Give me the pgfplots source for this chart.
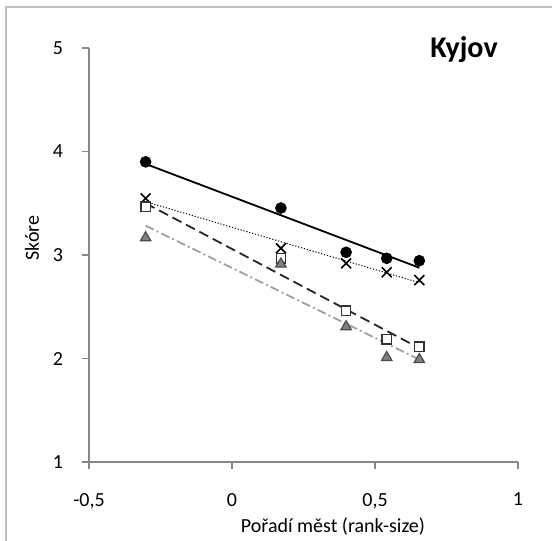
\documentclass[border=0pt]{standalone}
\usepackage{pgfplots}
\pgfplotsset{compat=1.18}
\usepackage{fontspec}
\setmainfont{Carlito}
\definecolor{axgray}{HTML}{868686}
\definecolor{framegray}{HTML}{BFBFBF}
\definecolor{trigray}{HTML}{808080}
\definecolor{dashgray}{HTML}{A0A0A0}
\begin{document}
\begin{tikzpicture}[x=0.5pt,y=-0.5pt]
\begin{scope}
\clip (0,0) rectangle (552,541);
\draw[framegray, line width=1.2pt] (6,7) rectangle (620,620);
\end{scope}
\begin{axis}[
  at={(44.5pt,-231pt)}, anchor=south west,
  scale only axis, width=214.5pt, height=207pt,
  xmin=-0.5, xmax=1, ymin=1, ymax=5,
  axis lines=left,
  axis line style={axgray, line width=0.8pt, -},
  xtick={-0.5,0,0.5,1}, xticklabels={{-0,5},0,{0,5},1},
  ytick={1,2,3,4,5}, yticklabels={1,2,3,4,5},
  tick align=outside, major tick length=3.5pt,
  tick style={axgray, line width=0.8pt},
  ticklabel style={font=\fontsize{10}{12}\selectfont, text=black},
  xticklabel style={yshift=-8.5pt},
  yticklabel style={xshift=-6pt},
  clip=false,
]
% trend lines
\addplot[black, line width=0.9pt] coordinates {(-0.302,3.88) (0.655,2.877)};
\addplot[black, line width=0.5pt, dash pattern=on 0.6pt off 0.9pt] coordinates {(-0.302,3.515) (0.655,2.733)};
\addplot[black!85, line width=0.9pt, dash pattern=on 5pt off 2.6pt] coordinates {(-0.302,3.50) (0.655,2.10)};
\addplot[dashgray, line width=0.9pt, dash pattern=on 4.5pt off 1.6pt on 1pt off 1.6pt] coordinates {(-0.302,3.283) (0.655,1.99)};
% markers
\addplot[only marks, mark=*, mark size=2.7pt, black] coordinates {
(-0.302,3.900) (0.171,3.454) (0.399,3.026) (0.541,2.968) (0.655,2.945)};
\addplot[only marks, mark=x, mark size=3.5pt, black, mark options={line width=0.8pt}] coordinates {
(-0.302,3.548) (0.171,3.065) (0.399,2.920) (0.541,2.833) (0.655,2.758)};
\addplot[only marks, mark=square*, mark size=2.3pt, mark options={fill=white, draw=black!80, line width=0.7pt}] coordinates {
(-0.302,3.467) (0.171,2.968) (0.399,2.462) (0.541,2.185) (0.655,2.114)};
\addplot[only marks, mark=triangle*, mark size=3pt, mark options={fill=trigray, draw=black!70, line width=0.6pt}] coordinates {
(-0.302,3.167) (0.171,2.913) (0.399,2.307) (0.541,2.010) (0.655,1.990)};
\end{axis}
\node[anchor=base west, inner sep=0pt, font=\fontsize{15}{17}\selectfont\bfseries] at (430,57) {Kyjov};
\node[rotate=90, inner sep=0pt, font=\fontsize{10}{12}\selectfont] at (32,238) {Skóre};
\node[inner sep=0pt, font=\fontsize{10}{12}\selectfont] at (333,527) {Pořadí měst (rank-size)};
\pgfresetboundingbox
\useasboundingbox (0,0) rectangle (552,541);
\end{tikzpicture}
\end{document}
